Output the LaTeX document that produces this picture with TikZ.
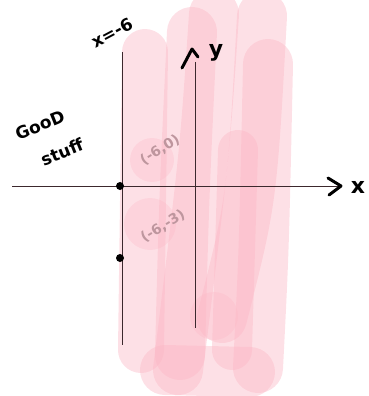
\documentclass[tikz,border=0pt]{standalone}
\usepackage{fontspec}
\setmainfont{DejaVu Sans}
\begin{document}
\begin{tikzpicture}[x=1pt,y=-1pt,
  hl/.style={line width=50pt,line cap=round,draw={rgb,255:red,251;green,182;blue,196},draw opacity=0.42},
  blob/.style={fill={rgb,255:red,251;green,182;blue,196},fill opacity=0.3,draw=none},
  axisline/.style={line width=1pt,draw={rgb,255:red,60;green,40;blue,45}},
  ink/.style={line width=3pt,line cap=round,line join=round,draw=black},
  hand/.style={font=\bfseries\fontsize{17}{19}\selectfont, text=black, inner sep=0pt},
  faint/.style={font=\bfseries\fontsize{14}{16}\selectfont, text={rgb,255:red,190;green,150;blue,158}, inner sep=0pt},
  dot/.style={circle,fill=black,inner sep=0pt,minimum size=8pt}]
\useasboundingbox (0,0) rectangle (368,396);
% pink highlighter strokes
\draw[hl,line width=46pt] (145,52) -- (141,350);
\draw[hl] (192,32) .. controls (184,200) .. (180,355);
\draw[hl] (214,14) .. controls (205,150) .. (178,370);
\draw[hl] (262,16) .. controls (252,200) .. (222,318);
\draw[hl] (268,64) .. controls (264,250) .. (258,368);
\draw[hl,line width=40pt] (238,150) -- (232,350);
\draw[hl] (165,370) -- (250,372);
\fill[blob] (152,160) circle (22);
\fill[blob] (150,224) circle (26);
\fill[blob] (214,316) circle (24);
% axes
\coordinate (xl) at (12,186);
\coordinate (xr) at (340,186);
\coordinate (vt) at (122,52);
\coordinate (vb) at (122,345);
\coordinate (yt) at (195,62);
\coordinate (yb) at (195,328);
\draw[axisline] (xl) -- (xr);
\draw[axisline] (vt) -- (vb);
\draw[axisline] (yt) -- (yb);
% hand arrowheads
\coordinate (xa1) at (328,178);
\coordinate (xa2) at (341,186);
\coordinate (xa3) at (329,195);
\draw[ink] (xa1) -- (xa2) -- (xa3);
\coordinate (ya1) at (182,68);
\coordinate (ya2) at (192,49);
\coordinate (ya3) at (198,57);
\draw[ink] (ya1) -- (ya2) -- (ya3);
% labels
\node[hand,font=\bfseries\fontsize{22}{24}\selectfont] (xlab) at (358,187) {x};
\node[hand,font=\bfseries\fontsize{22}{24}\selectfont] (ylab) at (216,53) {y};
\node[hand,rotate=28] (xeq) at (112,33) {x=-6};
\node[hand,rotate=22] (good) at (40,125) {GooD};
\node[hand,rotate=22] (stuff) at (62,152) {stuff};
\node[faint,rotate=32] (p1) at (160,150) {(-6,0)};
\node[faint,rotate=32] (p2) at (163,226) {(-6,-3)};
\node[dot] (d1) at (120,186) {};
\node[dot] (d2) at (120,258) {};
\end{tikzpicture}
\end{document}
